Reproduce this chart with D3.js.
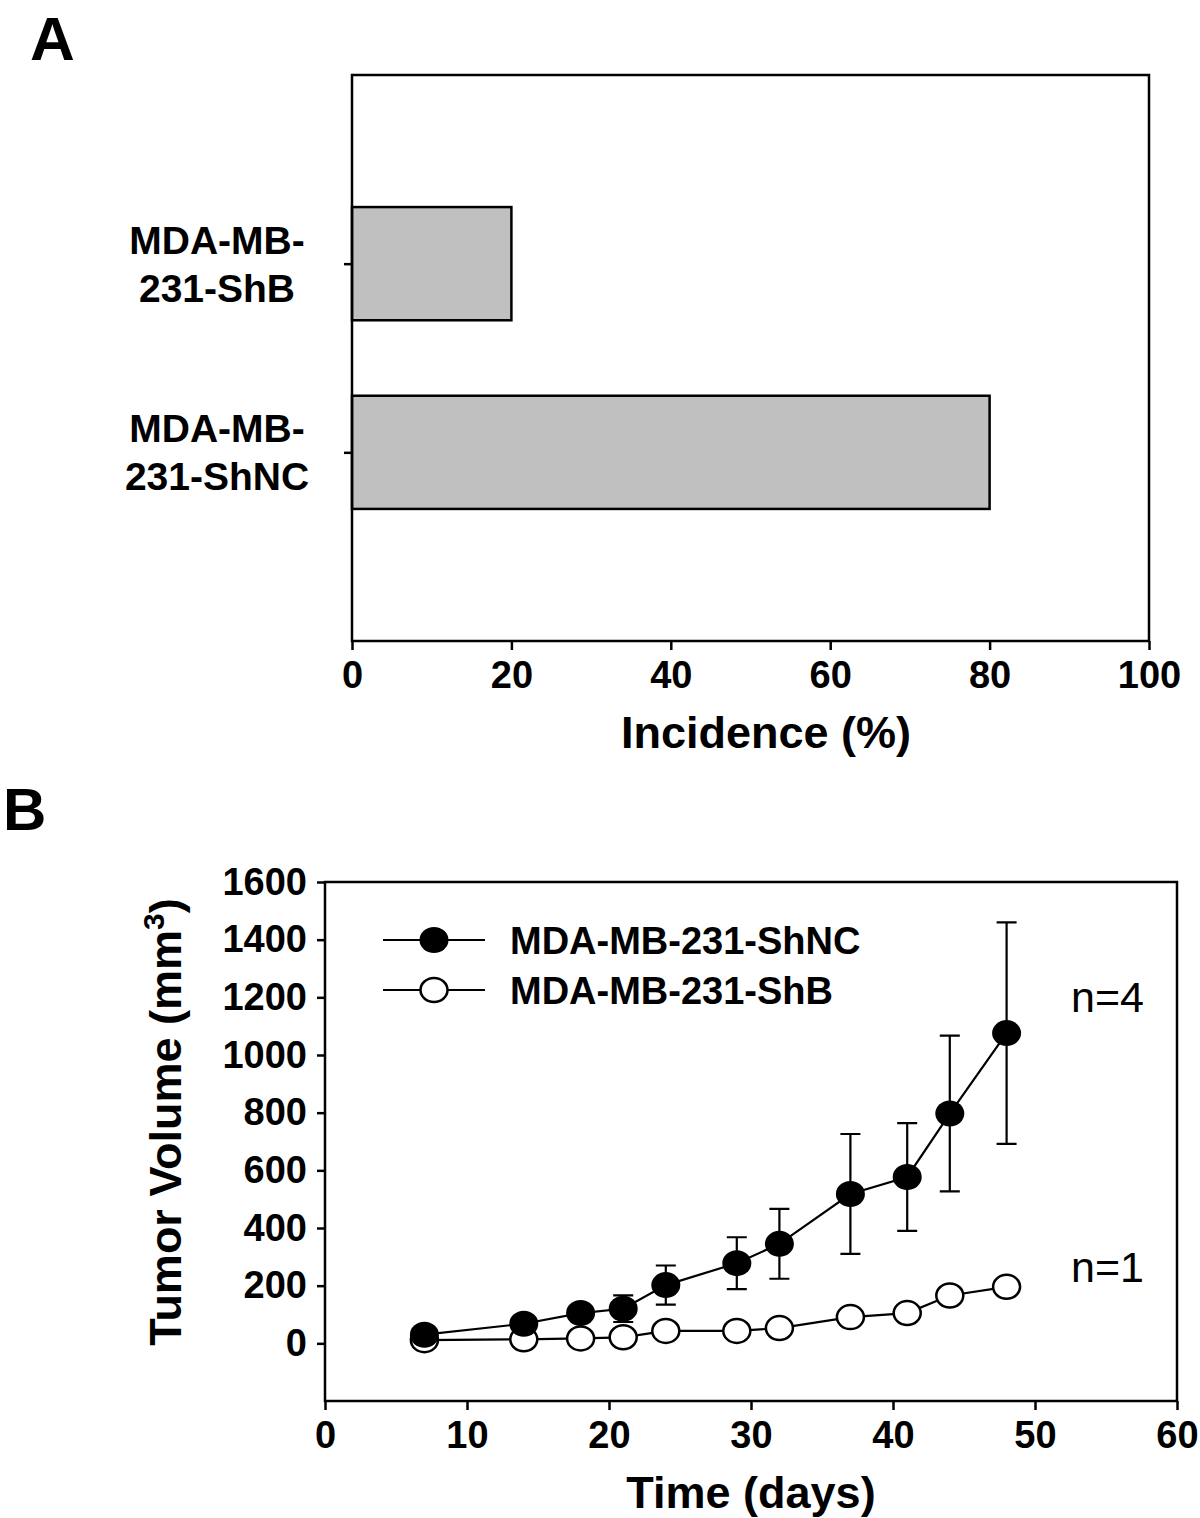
<!DOCTYPE html>
<html>
<head>
<meta charset="utf-8">
<script src="https://cdn.jsdelivr.net/npm/d3@7"></script>
<style>
  body { margin: 0; background: #fff; }
  svg { display: block; font-family: "Liberation Sans", Arial, Helvetica, sans-serif; }
  .axis path, .axis line { stroke: #000; stroke-width: 2.5; }
  .axis text { font-size: 38px; font-weight: bold; fill: #000; font-family: "Liberation Sans", Arial, sans-serif; }
</style>
</head>
<body>
<svg id="fig" width="1200" height="1518"></svg>
<script>
// ---- data ----
// panel A: tumor incidence
const incidenceGroups = [["MDA-MB-", "231-ShB"], ["MDA-MB-", "231-ShNC"]];
const incidencePos = [2, 1];
const incidenceValues = [20, 80];
const incidenceTicks = [0, 20, 40, 60, 80, 100];

// panel B: tumor volume over time
const days = [7, 14, 18, 21, 24, 29, 32, 37, 41, 44, 48];
const shNC = [30, 68, 105, 120, 202, 278, 345, 518, 577, 797, 1076];
const shNCerr = [0, 10, 20, 46, 68, 90, 121, 208, 187, 270, 384];
const shB = [11, 14, 17, 21, 43, 43, 53, 91, 105, 166, 196];
const volumeTicks = [0, 200, 400, 600, 800, 1000, 1200, 1400, 1600];
const timeTicks = [0, 10, 20, 30, 40, 50, 60];
const seriesNames = ["MDA-MB-231-ShNC", "MDA-MB-231-ShB"];
const nLabels = ["n=4", "n=1"];

const svg = d3.select('#fig');

// panel letters
svg.append('text').attr('x', 30).attr('y', 60).text('A')
   .attr('font-size', 62).attr('font-weight', 'bold');
svg.append('text').attr('x', 3).attr('y', 830).text('B')
   .attr('font-size', 60).attr('font-weight', 'bold');

/*
** Panel A - horizontal bars
*/
const a = {left: 352, right: 1149, top: 75, bottom: 641};
const ax = d3.scaleLinear().domain([0, 100]).range([a.left, a.right]);
const ay = d3.scaleLinear().domain([0, 3]).range([a.bottom, a.top]);
const gA = svg.append('g');

gA.selectAll('.bar')
  .data(incidenceValues)
  .enter().append('rect')
    .attr('class', 'bar')
    .attr('x', ax(0))
    .attr('y', (d, i) => ay(incidencePos[i] + 0.3))
    .attr('width', d => ax(d) - ax(0))
    .attr('height', ay(0) - ay(0.6))
    .attr('fill', '#c0c0c0')
    .attr('stroke', '#000')
    .attr('stroke-width', 2.5);

gA.append('g').attr('class', 'axis')
  .attr('transform', `translate(0,${a.bottom})`)
  .call(d3.axisBottom(ax).tickValues(incidenceTicks).tickSize(9).tickPadding(11).tickSizeOuter(0))
  .call(g => g.select('.domain').remove());

gA.append('g').attr('class', 'axis')
  .attr('transform', `translate(${a.left},0)`)
  .call(d3.axisLeft(ay).tickValues(incidencePos).tickSize(8).tickFormat(''))
  .call(g => g.select('.domain').remove());

gA.append('rect')
  .attr('x', a.left).attr('y', a.top)
  .attr('width', a.right - a.left).attr('height', a.bottom - a.top)
  .attr('fill', 'none').attr('stroke', '#000').attr('stroke-width', 2.5);

// category labels, two lines each
incidenceGroups.forEach((lines, i) => {
  const t = gA.append('text')
    .attr('text-anchor', 'middle')
    .attr('font-size', 39).attr('font-weight', 'bold');
  lines.forEach((l, j) => {
    t.append('tspan').attr('x', 217)
      .attr('y', ay(incidencePos[i]) - 10 + j * 48)
      .text(l);
  });
});

gA.append('text').attr('x', 766).attr('y', 748)
  .attr('text-anchor', 'middle').attr('font-size', 45).attr('font-weight', 'bold')
  .text('Incidence (%)');

/*
** Panel B - tumor growth curves
*/
const b = {left: 325, right: 1177, top: 882, bottom: 1401};
const bx = d3.scaleLinear().domain([0, 60]).range([b.left, b.right]);
const by = d3.scaleLinear().domain([-200, 1600]).range([b.bottom, b.top]);
const gB = svg.append('g');

gB.append('g').attr('class', 'axis')
  .attr('transform', `translate(0,${b.bottom})`)
  .call(d3.axisBottom(bx).tickValues(timeTicks).tickSize(9).tickPadding(11).tickSizeOuter(0))
  .call(g => g.select('.domain').remove());

gB.append('g').attr('class', 'axis')
  .attr('transform', `translate(${b.left},0)`)
  .call(d3.axisLeft(by).tickValues(volumeTicks).tickSize(8).tickPadding(10)
        .tickFormat(d3.format('d')).tickSizeOuter(0))
  .call(g => g.select('.domain').remove());

gB.append('rect')
  .attr('x', b.left).attr('y', b.top)
  .attr('width', b.right - b.left).attr('height', b.bottom - b.top)
  .attr('fill', 'none').attr('stroke', '#000').attr('stroke-width', 2.5);

const line = d3.line().x(d => bx(d[0])).y(d => by(d[1]));
const ncPts = days.map((d, i) => [d, shNC[i], shNCerr[i]]);
const bPts = days.map((d, i) => [d, shB[i]]);

// error bars (ShNC only)
const errG = gB.append('g').attr('stroke', '#000').attr('stroke-width', 2.2);
errG.selectAll('.err')
  .data(ncPts.filter(d => d[2] > 0))
  .enter().append('path')
    .attr('class', 'err')
    .attr('fill', 'none')
    .attr('d', d => {
      const x = bx(d[0]), y1 = by(d[1] + d[2]), y2 = by(d[1] - d[2]);
      return `M${x - 10},${y1}H${x + 10}M${x},${y1}V${y2}M${x - 10},${y2}H${x + 10}`;
    });

gB.append('path').datum(bPts)
  .attr('d', line).attr('fill', 'none').attr('stroke', '#000').attr('stroke-width', 2.2);
gB.append('path').datum(ncPts)
  .attr('d', line).attr('fill', 'none').attr('stroke', '#000').attr('stroke-width', 2.2);

gB.selectAll('.ptB')
  .data(bPts)
  .enter().append('ellipse')
    .attr('class', 'ptB')
    .attr('cx', d => bx(d[0])).attr('cy', d => by(d[1]))
    .attr('rx', 13.5).attr('ry', 12)
    .attr('fill', '#fff').attr('stroke', '#000').attr('stroke-width', 2.5);

gB.selectAll('.ptNC')
  .data(ncPts)
  .enter().append('ellipse')
    .attr('class', 'ptNC')
    .attr('cx', d => bx(d[0])).attr('cy', d => by(d[1]))
    .attr('rx', 14.5).attr('ry', 13)
    .attr('fill', '#000');

// legend
const legend = gB.selectAll('.legend')
  .data(seriesNames)
  .enter().append('g')
    .attr('class', 'legend')
    .attr('transform', (d, i) => `translate(0,${940 + i * 50})`);
legend.append('line').attr('x1', 383).attr('x2', 485)
  .attr('stroke', '#000').attr('stroke-width', 2.2);
legend.append('ellipse').attr('cx', 434).attr('cy', 0)
  .attr('rx', (d, i) => i ? 13.5 : 14.5).attr('ry', (d, i) => i ? 12 : 13)
  .attr('fill', (d, i) => i ? '#fff' : '#000')
  .attr('stroke', '#000').attr('stroke-width', (d, i) => i ? 2.5 : 0);
legend.append('text').attr('x', 510).attr('y', 14)
  .attr('font-size', 38).attr('font-weight', 'bold')
  .text(d => d);

gB.selectAll('.nlab')
  .data(nLabels)
  .enter().append('text')
    .attr('class', 'nlab')
    .attr('x', 1071)
    .attr('y', (d, i) => i ? 1282 : 1012)
    .attr('font-size', 43)
    .text(d => d);

// axis titles
gB.append('text').attr('x', 751).attr('y', 1508)
  .attr('text-anchor', 'middle').attr('font-size', 45).attr('font-weight', 'bold')
  .text('Time (days)');

const yt = gB.append('text')
  .attr('transform', 'translate(181,1122) rotate(-90)')
  .attr('text-anchor', 'middle').attr('font-size', 45).attr('font-weight', 'bold');
yt.append('tspan').text('Tumor Volume (mm');
yt.append('tspan').attr('dy', -17).attr('font-size', 30).text('3');
yt.append('tspan').attr('dy', 17).text(')');
</script>
</body>
</html>
